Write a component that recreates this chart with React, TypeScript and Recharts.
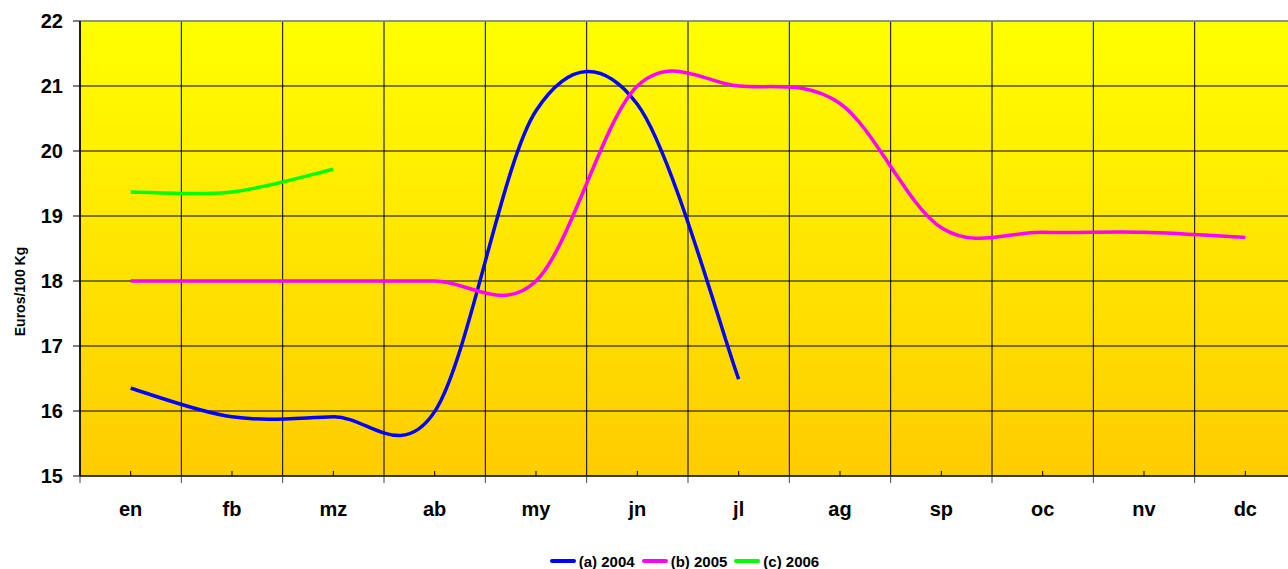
import React from "react";
import {
  LineChart,
  Line,
  XAxis,
  YAxis,
  CartesianGrid,
  Legend,
  Label,
  ReferenceLine,
} from "recharts";

const months = ["en", "fb", "mz", "ab", "my", "jn", "jl", "ag", "sp", "oc", "nv", "dc"];
const prices2004 = [16.35, 15.91, 15.91, 15.99, 20.62, 20.72, 16.49, null, null, null, null, null];
const prices2005 = [18.0, 18.0, 18.0, 18.0, 18.0, 21.0, 21.0, 20.73, 18.82, 18.75, 18.75, 18.67];
const prices2006 = [19.37, 19.37, 19.72, null, null, null, null, null, null, null, null, null];
const yTicks = [15, 16, 17, 18, 19, 20, 21, 22];

const FONT = "Arial, 'Liberation Sans', sans-serif";

const data = months.map((m, i) => ({
  month: m,
  a: prices2004[i],
  b: prices2005[i],
  c: prices2006[i],
}));

// Excel-like smoothed line (cubic bezier through each point, 1/6 neighbour tangents)
function excelSmooth(context: any) {
  let pts: number[][] = [];
  return {
    areaStart() {},
    areaEnd() {},
    lineStart() {
      pts = [];
    },
    point(x: number, y: number) {
      pts.push([+x, +y]);
    },
    lineEnd() {
      if (!pts.length) return;
      context.moveTo(pts[0][0], pts[0][1]);
      if (pts.length === 1) {
        context.lineTo(pts[0][0], pts[0][1]);
        return;
      }
      for (let i = 0; i < pts.length - 1; i++) {
        const p0 = pts[i - 1] || pts[i];
        const p1 = pts[i];
        const p2 = pts[i + 1];
        const p3 = pts[i + 2] || p2;
        context.bezierCurveTo(
          p1[0] + (p2[0] - p0[0]) / 6,
          p1[1] + (p2[1] - p0[1]) / 6,
          p2[0] - (p3[0] - p1[0]) / 6,
          p2[1] - (p3[1] - p1[1]) / 6,
          p2[0],
          p2[1]
        );
      }
    },
  };
}

function MonthTick(props: any) {
  const { x, y, payload, index } = props;
  const half = payload?.offset ?? 0;
  return (
    <g>
      <line x1={x} y1={y} x2={x} y2={y - 5} stroke="#000" />
      <line x1={x - half} y1={y} x2={x - half} y2={y + 7} stroke="#444" />
      {index === months.length - 1 && (
        <line x1={x + half} y1={y} x2={x + half} y2={y + 7} stroke="#444" />
      )}
      <text
        x={x}
        y={y + 40}
        textAnchor="middle"
        fill="#000"
        fontSize={20}
        fontWeight="bold"
        fontFamily={FONT}
      >
        {payload.value}
      </text>
    </g>
  );
}

function YTitle(props: any) {
  const vb = props.viewBox || { x: 0, y: 0, width: 0, height: 0 };
  const cx = vb.x + 20;
  const cy = vb.y + vb.height / 2 + 43;
  return (
    <text
      x={cx}
      y={cy}
      transform={`rotate(-90, ${cx}, ${cy})`}
      textAnchor="middle"
      dominantBaseline="central"
      fontSize={14}
      fontWeight="bold"
      fontFamily={FONT}
      fill="#000"
    >
      Euros/100 Kg
    </text>
  );
}

function LegendBox(props: any) {
  const items = props.payload || [];
  return (
    <div
      style={{
        display: "flex",
        justifyContent: "center",
        alignItems: "center",
        height: 22,
        fontFamily: FONT,
        fontSize: 15,
        fontWeight: "bold",
        color: "#000",
      }}
    >
      {items.map((it: any) => (
        <div key={it.value} style={{ display: "flex", alignItems: "center", marginRight: 7 }}>
          <span
            style={{
              display: "inline-block",
              width: 26,
              height: 4,
              borderRadius: 2,
              background: it.color,
              marginRight: 3,
            }}
          />
          <span>{it.value}</span>
        </div>
      ))}
    </div>
  );
}

export default function App() {
  return (
    <div
      style={{
        position: "absolute",
        left: 0,
        top: 0,
        width: 1288,
        height: 569,
        overflow: "hidden",
        background: "#fff",
      }}
    >
      <LineChart width={1296} height={569} data={data} margin={{ top: 21, right: 0, left: 0, bottom: 21 }}>
        <defs>
          <linearGradient id="plotBg" x1="0" y1="0" x2="0" y2="1">
            <stop offset="0%" stopColor="#FFFF00" />
            <stop offset="100%" stopColor="#FFCC00" />
          </linearGradient>
        </defs>
        <CartesianGrid
          fill="url(#plotBg)"
          fillOpacity={1}
          stroke="#000"
          strokeWidth={1}
          verticalCoordinatesGenerator={({ offset }: any) =>
            months.map((_, i) => offset.left + (i * offset.width) / months.length)
          }
        />
        <XAxis
          dataKey="month"
          scale="band"
          height={50}
          axisLine={{ stroke: "#000", strokeWidth: 1 }}
          tickLine={false}
          tickSize={0}
          tickMargin={0}
          interval={0}
          tick={<MonthTick />}
        />
        <YAxis
          width={80}
          domain={[15, 22]}
          ticks={yTicks}
          interval={0}
          axisLine={{ stroke: "#000", strokeWidth: 1.5 }}
          tickLine={{ stroke: "#000" }}
          tickSize={7}
          tickMargin={10}
          tick={{ fill: "#000", fontSize: 20, fontWeight: "bold", fontFamily: FONT }}
        >
          <Label content={<YTitle />} />
        </YAxis>
        <ReferenceLine y={22} stroke="#9a9a9a" strokeWidth={1.5} />
        <Legend
          verticalAlign="bottom"
          height={22}
          content={<LegendBox />}
          wrapperStyle={{ left: 80, width: 1216, top: 550, bottom: "auto" }}
        />
        <Line
          type={excelSmooth as any}
          dataKey="a"
          name="(a) 2004"
          stroke="#0000FF"
          strokeWidth={3.5}
          dot={false}
          activeDot={false}
          isAnimationActive={false}
        />
        <Line
          type={excelSmooth as any}
          dataKey="b"
          name="(b) 2005"
          stroke="#FF00FF"
          strokeWidth={3.5}
          dot={false}
          activeDot={false}
          isAnimationActive={false}
        />
        <Line
          type={excelSmooth as any}
          dataKey="c"
          name="(c) 2006"
          stroke="#00FF00"
          strokeWidth={3.5}
          dot={false}
          activeDot={false}
          isAnimationActive={false}
        />
      </LineChart>
    </div>
  );
}
